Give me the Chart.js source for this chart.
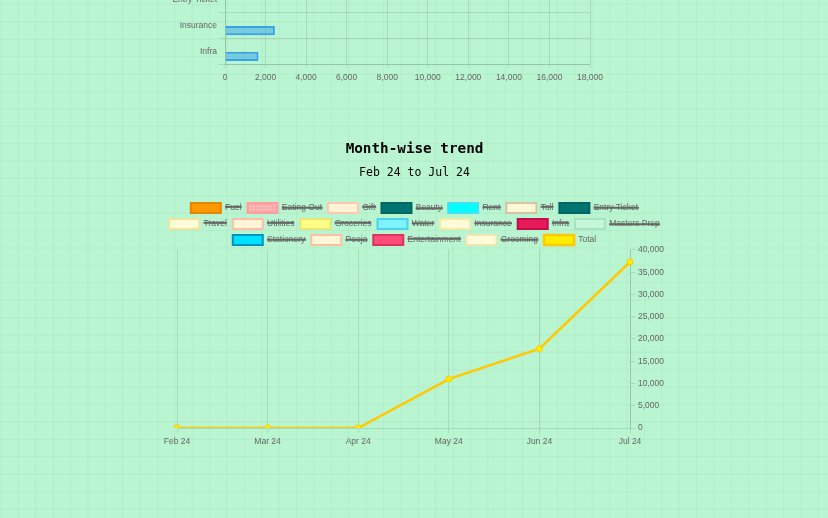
<!DOCTYPE html>
<html>
<head>
<meta charset="utf-8">
<script src="https://cdn.jsdelivr.net/npm/chart.js@4.4.1/dist/chart.umd.min.js"></script>
<style>
  html, body { margin:0; padding:0; }
  body {
    width:828px; height:518px; overflow:hidden; position:relative;
    background-color:#b9f5d0;
    background-image:
      linear-gradient(to right, rgba(0,0,0,0.035) 1px, transparent 1px),
      linear-gradient(to bottom, rgba(0,0,0,0.035) 1px, transparent 1px);
    background-size:17.4px 17.4px;
    background-position:0.5px 4px;
  }
  .wrap { position:absolute; }
</style>
</head>
<body>
<div class="wrap" style="left:160px; top:-39px; width:450px; height:128px;"><canvas id="bar" width="450" height="128"></canvas></div>
<div class="wrap" style="left:159px; top:130px; width:511px; height:318px;"><canvas id="line" width="511" height="318"></canvas></div>
<script>
// ---- top (partially visible) horizontal bar chart ----
const barCategories = ['Entry Ticket', 'Insurance', 'Infra'];
const barSeriesA = [null, null, null];
const barSeriesB = [40, 2460, 1650];
const barTicks = [0, 2000, 4000, 6000, 8000, 10000, 12000, 14000, 16000, 18000];

// ---- month-wise trend line chart ----
const months = ['Feb 24', 'Mar 24', 'Apr 24', 'May 24', 'Jun 24', 'Jul 24'];
const seriesNames = ['Fuel','Eating Out','Gift','Beauty','Rent','Toll','Entry Ticket','Travel','Utilities','Groceries','Water','Insurance','Infra','Masters Prep','Stationery','Pooja','Entertainment','Grooming','Total'];
const totalValues = [0, 0, 0, 11000, 17800, 37300];
const yTicks = [0, 5000, 10000, 15000, 20000, 25000, 30000, 35000, 40000];

const tickFont = { size: 8.5, family: "'Helvetica Neue', Helvetica, Arial, 'Liberation Sans', sans-serif" };

function dotPattern(bg, dot) {
  const c = document.createElement('canvas');
  c.width = 3; c.height = 3;
  const x = c.getContext('2d');
  x.fillStyle = bg; x.fillRect(0,0,3,3);
  x.fillStyle = dot; x.fillRect(1,1,1,1);
  return x.createPattern(c, 'repeat');
}

const seriesStyles = {
  'Fuel':          ['#ff9900', '#e58600'],
  'Eating Out':    [dotPattern('#ffabab', '#ffe0e0'), '#ff9e9e'],
  'Gift':          ['#fff3d6', '#ffc6b0'],
  'Beauty':        ['#007470', '#006864'],
  'Rent':          ['#00ffff', '#44e2f2'],
  'Toll':          ['#fff8d8', '#d6c6a0'],
  'Entry Ticket':  ['#007470', '#006460'],
  'Travel':        ['#fffbd8', '#f0e6a0'],
  'Utilities':     ['#fff5d8', '#ffbea8'],
  'Groceries':     ['#ffff88', '#e6e872'],
  'Water':         ['#80f2ff', '#44d6ee'],
  'Insurance':     ['#fffad8', '#eeeea8'],
  'Infra':         ['#e8195a', '#bf104a'],
  'Masters Prep':  ['#c6f6d8', '#a6e4be'],
  'Stationery':    ['#00e0ff', '#0092c2'],
  'Pooja':         ['#fff8d8', '#ffbea0'],
  'Entertainment': ['#ff4d7a', '#e0325f'],
  'Grooming':      ['#fffad8', '#eee6b0'],
  'Total':         ['#ffee00', '#ffc800']
};

new Chart(document.getElementById('bar'), {
  type: 'bar',
  data: {
    labels: barCategories,
    datasets: [
      { label: 'A', data: barSeriesA, backgroundColor: 'rgba(255,99,132,0.5)', borderColor: 'rgb(255,99,132)', borderWidth: 2 },
      { label: 'B', data: barSeriesB, backgroundColor: 'rgba(54,162,235,0.5)', borderColor: 'rgb(54,162,235)', borderWidth: 2 }
    ]
  },
  options: {
    indexAxis: 'y',
    responsive: false,
    animation: false,
    layout: { padding: { top: 26, right: 20, left: 0, bottom: 0 } },
    plugins: { legend: { display: false }, tooltip: { enabled: false } },
    scales: {
      x: {
        min: 0, max: 18000,
        afterBuildTicks: s => { s.ticks = barTicks.map(v => ({ value: v })); },
        grid: { tickLength: 4 },
        ticks: { padding: 5, font: tickFont, color: '#666' },
        afterFit: s => { s.height = 25; }
      },
      y: {
        grid: { tickLength: 6 },
        ticks: { padding: 2, font: tickFont, color: '#666' },
        afterFit: s => { s.width = 65; }
      }
    }
  }
});

const lineDatasets = seriesNames.map(name => {
  const [bg, bd] = seriesStyles[name];
  const isTotal = name === 'Total';
  return {
    label: name,
    data: isTotal ? totalValues : [],
    hidden: !isTotal,
    backgroundColor: bg,
    borderColor: bd,
    borderWidth: isTotal ? 2.5 : 2,
    pointRadius: 3,
    pointBackgroundColor: isTotal ? '#ffee00' : bg,
    pointBorderColor: bd,
    pointBorderWidth: 1,
    tension: 0,
    yAxisID: 'y'
  };
});

const legendTrim = {
  id: 'legendTrim',
  beforeInit(chart) {
    const lg = chart.legend;
    if (!lg) return;
    const orig = lg.fit;
    lg.fit = function () { orig.call(this); this.height -= 5; };
  }
};

new Chart(document.getElementById('line'), {
  type: 'line',
  data: { labels: months, datasets: lineDatasets },
  plugins: [legendTrim],
  options: {
    responsive: false,
    animation: false,
    layout: { padding: 0 },
    plugins: {
      tooltip: { enabled: false },
      title: {
        display: true, text: 'Month-wise trend', color: '#000',
        font: { family: "'DejaVu Sans Mono', monospace", size: 14.3, weight: 'bold' },
        padding: { top: 11, bottom: 3 }
      },
      subtitle: {
        display: true, text: 'Feb 24 to Jul 24', color: '#000',
        font: { family: "'DejaVu Sans Mono', monospace", size: 11.5, weight: 'normal' },
        padding: { top: 5, bottom: 17 }
      },
      legend: {
        labels: { boxWidth: 30, boxHeight: 10, padding: 6, font: tickFont, color: '#666' }
      }
    },
    scales: {
      x: {
        grid: { tickLength: 5 },
        ticks: { padding: 4, font: tickFont, color: '#666', maxRotation: 0 },
        afterFit: s => { s.height = 20; }
      },
      yLeftSpacer: {
        type: 'linear',
        position: 'left',
        display: true,
        grid: { display: false, drawTicks: false },
        border: { display: false },
        ticks: { display: false },
        afterFit: s => { s.width = 18; }
      },
      y: {
        position: 'right',
        min: 0, max: 40000,
        afterBuildTicks: s => { s.ticks = yTicks.map(v => ({ value: v })); },
        grid: { drawOnChartArea: false, tickLength: 5 },
        ticks: { padding: 3, font: tickFont, color: '#666' },
        afterFit: s => { s.width = 40; }
      }
    }
  }
});
</script>
</body>
</html>
